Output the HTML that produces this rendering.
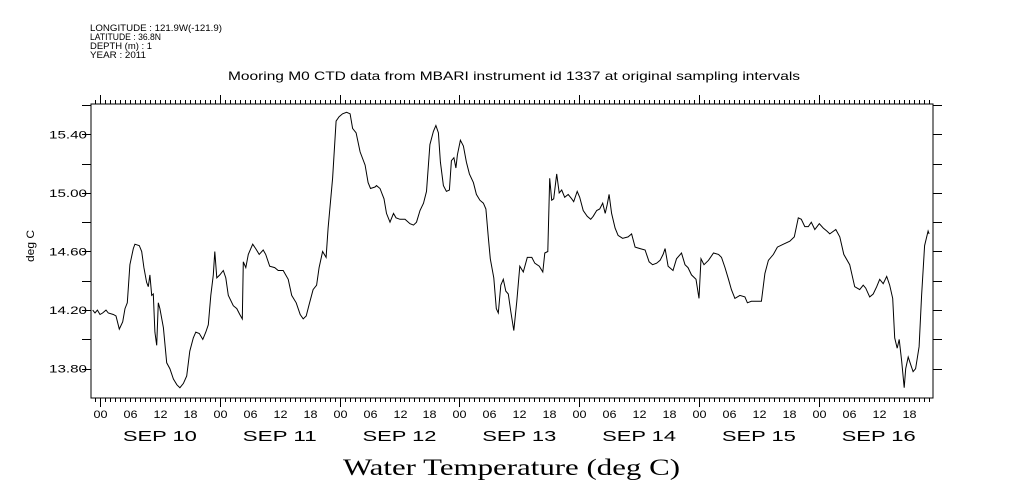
<!DOCTYPE html>
<html><head><meta charset="utf-8"><style>
html,body{margin:0;padding:0;background:#fff;}
svg{display:block;}
text{font-family:"Liberation Sans",sans-serif;fill:#000;}
</style></head><body>
<svg id="chart" width="1009" height="504" viewBox="0 0 1009 504" xmlns="http://www.w3.org/2000/svg">
<g font-size="9">
<text x="90" y="31" textLength="132" lengthAdjust="spacingAndGlyphs">LONGITUDE : 121.9W(-121.9)</text>
<text x="90" y="40" textLength="71" lengthAdjust="spacingAndGlyphs">LATITUDE : 36.8N</text>
<text x="90" y="49" textLength="62" lengthAdjust="spacingAndGlyphs">DEPTH (m) : 1</text>
<text x="90" y="58" textLength="56" lengthAdjust="spacingAndGlyphs">YEAR : 2011</text>
</g>
<text x="228" y="80" font-size="12" textLength="572" lengthAdjust="spacingAndGlyphs">Mooring M0 CTD data from MBARI instrument id 1337 at original sampling intervals</text>
<text x="343" y="475" font-size="23" textLength="337" lengthAdjust="spacingAndGlyphs" style="font-family:'Liberation Serif',serif">Water Temperature (deg C)</text>
<text transform="translate(34,246) rotate(-90)" font-size="11" text-anchor="middle" textLength="32" lengthAdjust="spacingAndGlyphs">deg C</text>
<rect x="91" y="104" width="842" height="294" fill="none" stroke="#000" stroke-width="1"/>
<g id="axes"></g>
<path id="line" fill="none" stroke="#000" stroke-width="1"/>
</svg>
<script>
const hours=[-1.47,-1.0,-0.53,0,0.53,1.2,1.67,2.67,3.2,3.87,4.54,5.0,5.47,6.0,6.67,7.0,7.88,8.35,8.8,9.34,9.68,10.0,10.35,10.68,11.0,11.35,11.68,12.0,12.7,13.36,14.0,14.7,15.4,16.0,16.7,17.36,18.0,18.7,19.2,19.9,20.6,21.2,21.7,22.2,22.7,23.0,23.4,24.0,24.7,25.2,25.7,26.7,27.4,28.0,28.5,28.7,29.2,29.7,30.6,31.2,31.9,32.7,33.2,34.0,35.0,35.7,36.7,37.7,38.4,39.3,40.1,40.7,41.3,41.9,42.7,43.4,43.9,44.6,45.3,45.7,46.6,47.3,47.9,48.6,49.4,50.1,50.6,51.3,52.1,53.1,53.7,54.2,55.1,55.4,56.1,56.9,57.4,58.1,58.8,59.3,60.1,61.1,62.1,62.8,63.4,64.1,64.8,65.4,66.1,66.8,67.3,67.8,68.2,68.8,69.4,70.0,70.4,70.9,71.3,71.6,72.2,72.8,73.4,74.0,74.8,75.4,76.1,76.8,77.3,77.8,78.2,78.9,79.4,79.8,80.3,80.8,81.3,81.8,82.3,82.9,83.5,84.1,84.8,85.6,86.5,87.1,88.0,88.7,89.1,89.7,90.1,90.5,90.9,91.5,92.0,92.5,93.1,93.8,94.5,94.9,95.6,96.1,96.8,97.6,98.3,98.8,99.5,100.1,100.7,101.2,101.6,102.0,102.5,103.2,103.8,104.7,105.8,106.5,107.2,108.2,109.2,110.0,110.7,111.5,112.2,112.8,113.2,113.8,114.8,115.5,116.5,117.2,117.8,118.5,119.4,120.0,120.4,121.0,121.9,122.9,123.9,124.5,125.2,125.9,126.5,127.2,128.2,129.2,129.7,130.5,131.5,132.5,133.2,133.9,134.9,135.7,136.9,138.2,139.1,139.9,140.5,141.2,141.9,142.5,143.2,144.1,144.9,145.6,146.2,147.4,148.2,149.0,150.2,151.2,152.2,152.9,153.4,154.2,154.9,155.6,156.2,156.9,157.6,158.2,158.8,159.2,159.7,160.1,160.6,161.1,161.4,161.9,162.4,162.9,163.4,164.1,164.6,165.2,165.9,166.1];
const temps=[14.20,14.18,14.20,14.17,14.18,14.20,14.18,14.17,14.16,14.07,14.12,14.21,14.25,14.51,14.62,14.65,14.64,14.60,14.49,14.39,14.36,14.44,14.30,14.31,14.05,13.96,14.25,14.21,14.08,13.84,13.80,13.73,13.69,13.67,13.70,13.75,13.92,14.01,14.05,14.04,14.00,14.05,14.10,14.30,14.44,14.60,14.42,14.44,14.47,14.42,14.30,14.23,14.21,14.17,14.14,14.53,14.49,14.58,14.65,14.62,14.58,14.61,14.58,14.50,14.49,14.47,14.47,14.41,14.30,14.25,14.17,14.14,14.16,14.24,14.34,14.37,14.49,14.60,14.56,14.76,15.10,15.49,15.52,15.54,15.55,15.54,15.44,15.41,15.28,15.19,15.07,15.03,15.04,15.05,15.03,14.96,14.86,14.80,14.86,14.83,14.82,14.82,14.79,14.78,14.80,14.88,14.93,15.01,15.33,15.42,15.46,15.41,15.21,15.05,15.01,15.02,15.22,15.24,15.17,15.26,15.36,15.32,15.21,15.13,15.07,14.99,14.95,14.93,14.89,14.69,14.55,14.42,14.21,14.18,14.37,14.41,14.33,14.31,14.19,14.06,14.26,14.50,14.46,14.56,14.56,14.52,14.50,14.46,14.59,14.60,15.10,14.95,14.96,15.13,15.00,15.02,14.97,14.99,14.96,14.94,15.01,14.97,14.88,14.84,14.82,14.84,14.88,14.89,14.93,14.86,14.92,14.99,14.86,14.76,14.71,14.69,14.70,14.72,14.63,14.62,14.61,14.53,14.51,14.52,14.54,14.58,14.62,14.50,14.47,14.55,14.59,14.51,14.49,14.44,14.41,14.28,14.55,14.51,14.54,14.59,14.58,14.56,14.49,14.41,14.34,14.28,14.30,14.29,14.25,14.26,14.26,14.26,14.45,14.54,14.58,14.63,14.65,14.67,14.70,14.83,14.82,14.77,14.77,14.80,14.75,14.79,14.76,14.74,14.72,14.75,14.70,14.58,14.51,14.36,14.34,14.37,14.35,14.29,14.31,14.36,14.41,14.38,14.43,14.37,14.28,14.01,13.94,14.00,13.85,13.67,13.80,13.88,13.83,13.78,13.80,13.95,14.30,14.64,14.74,14.72];
const yTickLabels=["13.80","14.20","14.60","15.00","15.40"];
const dayLabels=["SEP 10","SEP 11","SEP 12","SEP 13","SEP 14","SEP 15","SEP 16"];
const hourLabels=["00","06","12","18"];

const L=91,R=933,T=104,B=398;
const X0=100,PXH=119.8/24;
function xs(h){return X0+h*PXH;}
function ys(v){return 134.3+(15.4-v)*146.5;}
const NS="http://www.w3.org/2000/svg";
const axes=document.getElementById('axes');
function ln(x1,y1,x2,y2,name){const e=document.createElementNS(NS,'line');
e.setAttribute('x1',x1);e.setAttribute('y1',y1);e.setAttribute('x2',x2);e.setAttribute('y2',y2);
e.setAttribute('stroke','#000');e.setAttribute('stroke-width','1');


axes.appendChild(e);}
function tx(x,y,s,size,name,len){const e=document.createElementNS(NS,'text');
e.setAttribute('x',x);e.setAttribute('y',y);e.setAttribute('font-size',size);e.setAttribute('text-anchor','middle');e.textContent=s;
if(len){e.setAttribute('textLength',len);e.setAttribute('lengthAdjust','spacingAndGlyphs');}


axes.appendChild(e);return e;}
for(let h=-1;h<=166;h++){const x=Math.round(xs(h))+0.5;if(x<L||x>R)continue;
 const major=(h%24===0);
 ln(x,B,x,B+(major?9:4),'x-tick');
 ln(x,T,x,T-(major?9:4),'x-tick-top');
 if(h%6===0&&h>=0){tx(x,418,hourLabels[(h%24)/6],11,'x-hour-label',14);}
}
dayLabels.forEach((d,i)=>{tx(xs(i*24+12),441,d,15,'x-day-label',74);});
for(let k=0;k<=9;k++){const v=13.8+k*0.2;const y=Math.round(ys(v))+0.5;if(y<T||y>B)continue;
 ln(L-9,y,L,y,'y-tick');ln(R,y,R+9,y,'y-tick-right');}
yTickLabels.forEach(s=>{const t=tx(68,ys(parseFloat(s))+4,s,11,'y-tick-label',38);});
let d='';hours.forEach((h,i)=>{d+=(i?'L':'M')+xs(h).toFixed(1)+','+ys(temps[i]).toFixed(1);});
document.getElementById('line').setAttribute('d',d);
</script>
</body></html>
